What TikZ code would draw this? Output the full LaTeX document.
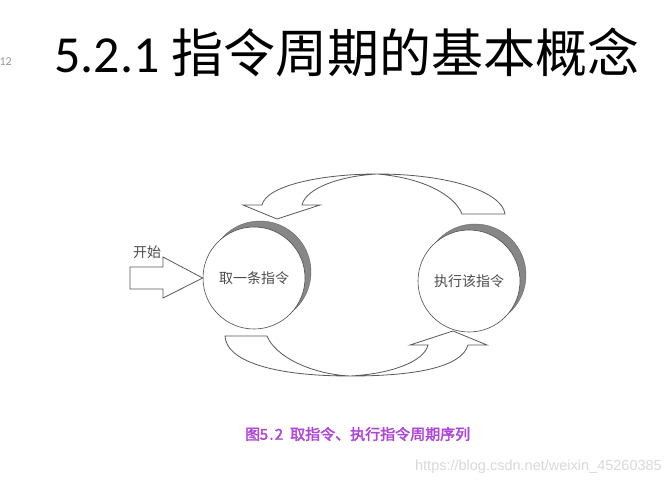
\documentclass[tikz,border=0pt]{standalone}
\usepackage{fontspec}
\setmainfont{Carlito}
\newfontfamily\cjk[AutoFakeBold=2.5]{Noto Sans CJK SC}
\newfontfamily\wmfont{Liberation Sans}
\definecolor{capviolet}{HTML}{B046D8}
\newcommand{\hw}[1]{\makebox[0.5em]{#1}}
\begin{document}
\begin{tikzpicture}[x=1pt,y=-1pt]
\tikzset{
  blockarrow/.style={draw=black!65, fill=white, line width=0.8pt, line join=miter},
  proc/.style={circle, draw=black!70, fill=white, minimum size=102pt, inner sep=0pt, line width=0.6pt,
    font=\cjk\fontsize{14}{14}\selectfont, text=black!70},
  shadowc/.style={circle, fill=black!47, draw=black!60, line width=0.4pt, minimum size=102pt, inner sep=0pt},
  lbl/.style={inner sep=0pt, font=\cjk\fontsize{14}{14}\selectfont, text=black!70}
}
\useasboundingbox (0,0) rectangle (672,485);
\fill[white] (0,0) rectangle (672,485);
\node[anchor=east, inner sep=0pt, text=black!40, font=\fontsize{12}{12}\selectfont] (pg) at (12,62) {12};
\node[anchor=west, inner sep=0pt, font=\fontsize{52}{52}\selectfont] (title) at (54,52) {5.2.1 {\cjk 指令周期的基本概念}};
% circles with shadows
\node[shadowc] (fsh) at (260,272) {};
\node[proc] (fetch) at (254,278) {取一条指令};
\node[shadowc] (esh) at (475,275) {};
\node[proc] (exec) at (469,281) {执行该指令};
% start arrow
\draw[blockarrow] (fetch.west) -- (163,257) -- (163,267) -- (130,267) -- (130,289) -- (163,289) -- (163,298) -- cycle;
\node[lbl] (start) at (147,252) {开始};
% top curved arrow (exec -> fetch)
\draw[blockarrow] (277,219) -- (243,205) -- (262,205)
  .. controls (266,186) and (320,174) .. (377,174)
  .. controls (450,174) and (502,192) .. (505,214) -- (462,214)
  .. controls (455,196) and (425,178) .. (377,174)
  .. controls (340,176) and (306,188) .. (302,205) -- (320,205) -- cycle;
% bottom curved arrow (fetch -> exec)
\draw[blockarrow] (225,336) -- (267,336)
  .. controls (275,356) and (310,374) .. (350,376)
  .. controls (390,374) and (424,362) .. (428,345) -- (410,345) -- (453,331) -- (487,345) -- (468,345)
  .. controls (462,366) and (420,376) .. (350,376)
  .. controls (270,376) and (226,360) .. (225,336) -- cycle;
% caption
\node[anchor=west, inner sep=0pt, text=capviolet, font=\cjk\bfseries\fontsize{15}{15}\selectfont] (cap) at (245,434) {图\hw{5}\hw{.}\hw{2}\hspace{0.5em}取指令、执行指令周期序列};
% watermark
\node[anchor=east, inner sep=0pt, text=black!15, font=\wmfont\fontsize{14.5}{14.5}\selectfont] (wm) at (662,467) {https://blog.csdn.net/weixin\_45260385};
\end{tikzpicture}
\end{document}
